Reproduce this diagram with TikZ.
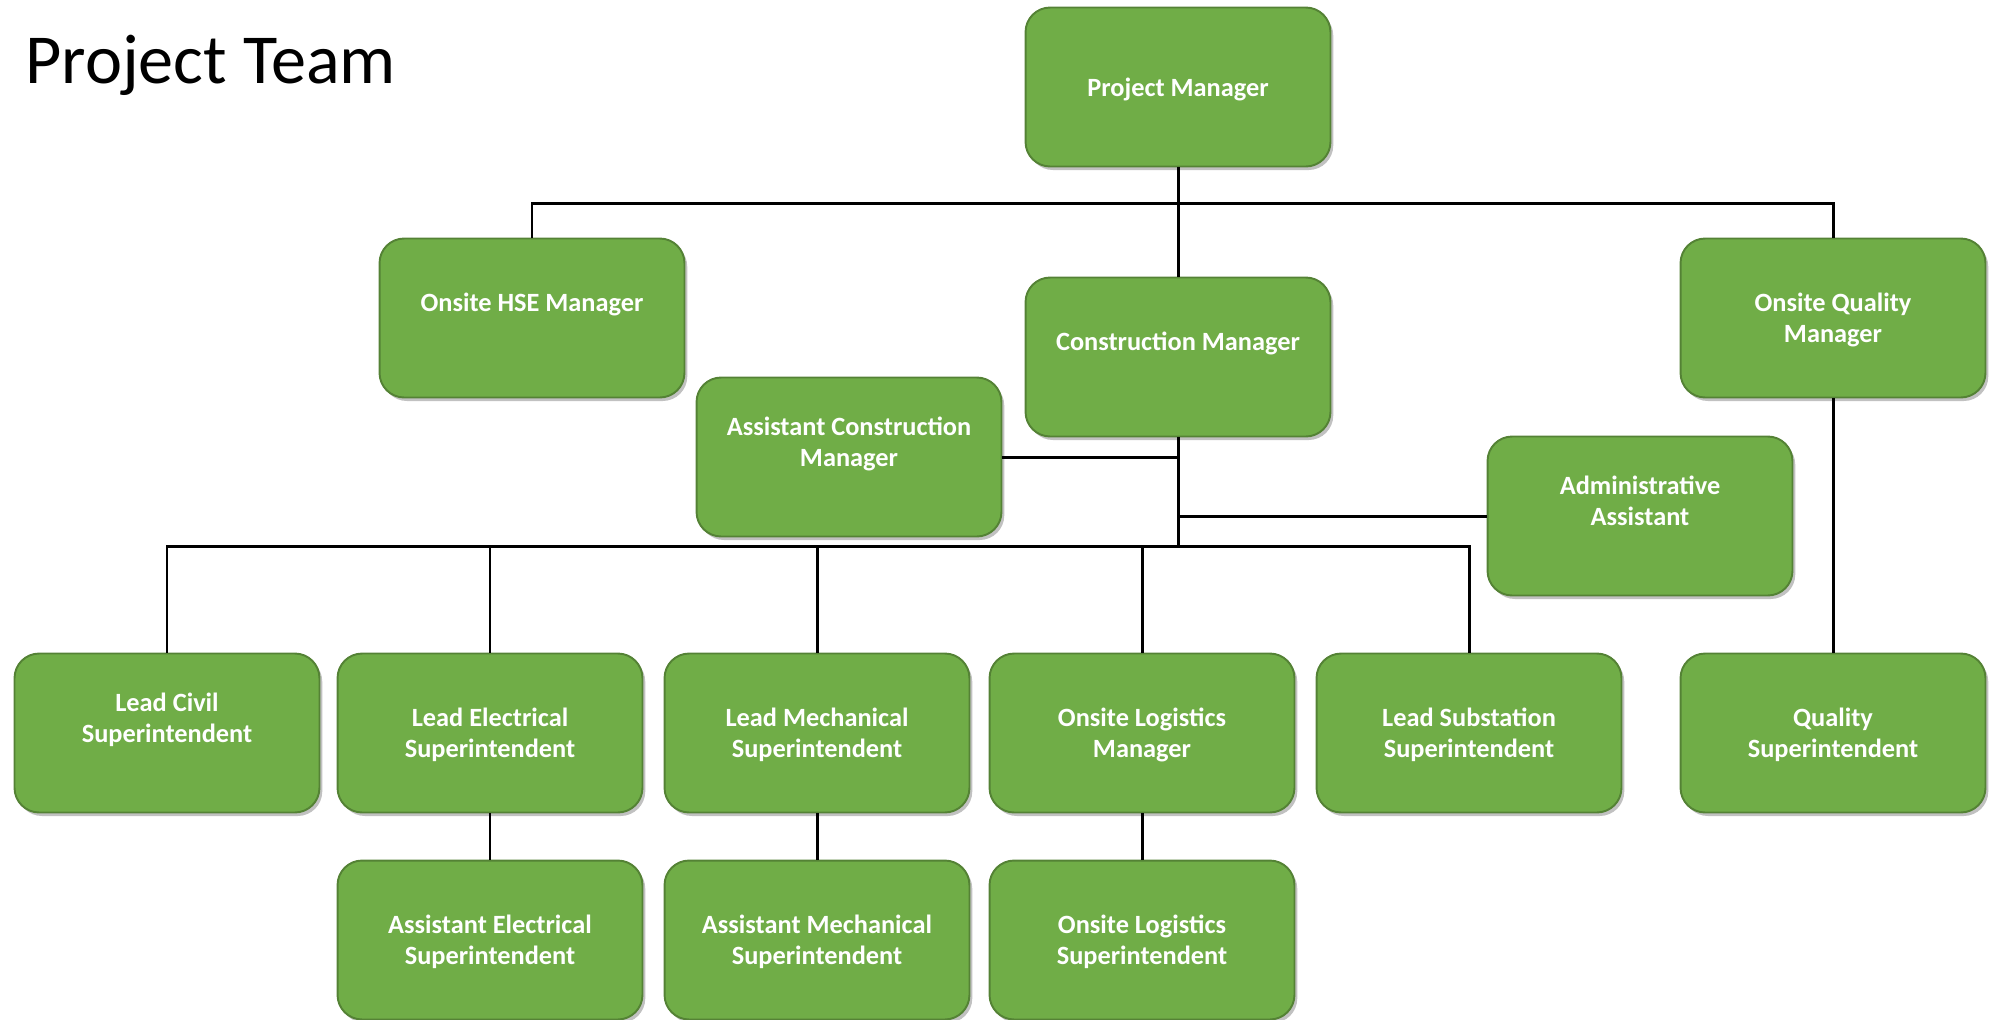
\documentclass[tikz,border=0pt]{standalone}
\usepackage{fontspec}
\setmainfont{Carlito}
\usepackage{tikz}
\usetikzlibrary{shadows}
\usetikzlibrary{calc}

\definecolor{boxfill}{HTML}{70AD47}
\definecolor{boxline}{HTML}{548235}

\tikzset{
  role/.style={draw=boxline, line width=1.1pt, fill=boxfill, rounded corners=14pt,
    minimum width=6.1cm, minimum height=3.18cm, inner sep=0pt, align=center,
    text=white, font=\fontsize{15}{17.6}\selectfont\bfseries, text depth=-2pt,
    drop shadow={shadow xshift=1.6pt, shadow yshift=-2pt, opacity=0.3, fill=black!80}},
  link/.style={line width=1.7pt, black}
}

\begin{document}
\begin{tikzpicture}[x=0.02cm, y=-0.02cm]
\useasboundingbox (0,0) rectangle (1995,1019);

%title
\node[anchor=base west, inner sep=0pt, font=\fontsize{40}{48}\selectfont] (title) at (25,83) {Project Team};

%management
\node[role] (pm) at (1178,87) {Project Manager};
\node[role] (hse) at (532,318) {Onsite HSE Manager\\[0pt]};
\node[role] (cm) at (1178,357) {Construction Manager\\[0pt]};
\node[role] (oqm) at (1833,318) {Onsite Quality\\Manager};
\node[role] (acm) at (849,457) {Assistant Construction\\Manager\\[0pt]};
\node[role] (admin) at (1640,516) {Administrative\\Assistant\\[0pt]};

%leads
\node[role] (civil) at (167,733) {Lead Civil\\Superintendent\\[0pt]};
\node[role] (elec) at (490,733) {Lead Electrical\\Superintendent};
\node[role] (mech) at (817,733) {Lead Mechanical\\Superintendent};
\node[role] (olm) at (1142,733) {Onsite Logistics\\Manager};
\node[role] (subst) at (1469,733) {Lead Substation\\Superintendent};
\node[role] (qs) at (1833,733) {Quality\\Superintendent};

%assistants
\node[role] (aelec) at (490,940) {Assistant Electrical\\Superintendent};
\node[role] (amech) at (817,940) {Assistant Mechanical\\Superintendent};
\node[role] (ols) at (1142,940) {Onsite Logistics\\Superintendent};

%connectors
\coordinate (topbus) at (1178,203);
\coordinate (lowbus) at (1178,546);
\draw[link] (pm) -- (cm);
\draw[link] (hse.north) |- (topbus) -| (oqm.north);
\draw[link] (cm.south) -- (lowbus);
\draw[link] (acm.east) -- (acm.east -| cm.south);
\draw[link] (admin.west) -- (admin.west -| cm.south);
\draw[link] (civil.north) |- (lowbus) -| (subst.north);
\foreach \n in {elec,mech,olm}
  \draw[link] (\n.north) -- (\n.north |- lowbus);
\draw[link] (oqm) -- (qs);
\draw[link] (elec) -- (aelec);
\draw[link] (mech) -- (amech);
\draw[link] (olm) -- (ols);
\end{tikzpicture}
\end{document}
